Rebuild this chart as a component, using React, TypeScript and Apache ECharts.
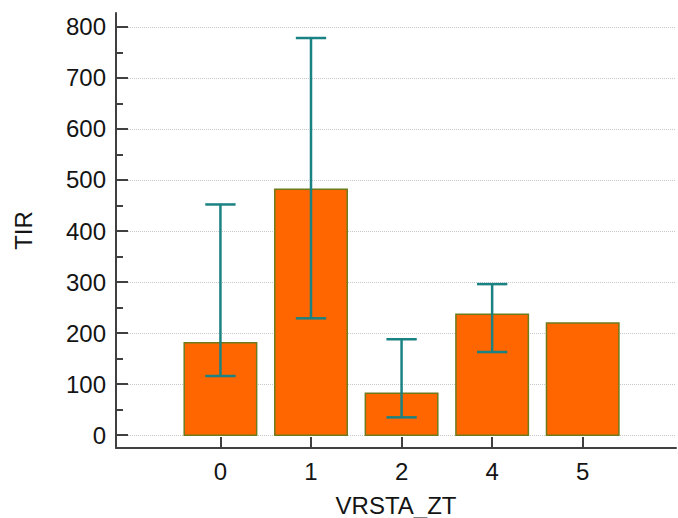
import React, { useEffect, useRef } from 'react';
import * as echarts from 'echarts';

const categories = ['0', '1', '2', '4', '5'];
const means = [181, 482, 82, 237, 220];
const lowerErr: (number | null)[] = [116, 229, 35, 163, null];
const upperErr: (number | null)[] = [452, 778, 188, 296, null];
const yTicks = [0, 100, 200, 300, 400, 500, 600, 700, 800];
const yMinorTicks = [50, 150, 250, 350, 450, 550, 650, 750];

const AXIS_COLOR = '#404040';
const TEXT_COLOR = '#141414';
const FONT = "'Liberation Sans', Arial, sans-serif";
const FS = 24;

export default function App() {
  const ref = useRef<HTMLDivElement>(null);
  useEffect(() => {
    document.body.style.margin = '0';
    const chart = echarts.init(ref.current!, null, { renderer: 'svg' });
    const idx = categories.map((_, i) => i);
    const barData = idx.map((i) => [i, means[i]]);
    const errData = idx
      .filter((i) => lowerErr[i] != null && upperErr[i] != null)
      .map((i) => [i, lowerErr[i] as number, upperErr[i] as number]);

    chart.setOption({
      animation: false,
      grid: { left: 116, right: 2, top: 13, bottom: 70, outerBoundsMode: 'none' },
      xAxis: {
        type: 'value',
        min: -1.153,
        max: 5.03,
        name: 'VRSTA_ZT',
        nameLocation: 'middle',
        nameGap: 45,
        nameTextStyle: { fontSize: FS, color: TEXT_COLOR, fontFamily: FONT },
        axisLine: { show: true, onZero: false, lineStyle: { color: AXIS_COLOR, width: 2 } },
        axisTick: { show: true, inside: true, length: 11, customValues: idx, lineStyle: { color: AXIS_COLOR, width: 2 } },
        axisLabel: {
          customValues: idx,
          formatter: (v: number) => categories[Math.round(v)] ?? '',
          fontSize: FS,
          color: TEXT_COLOR,
          fontFamily: FONT,
          margin: 11,
        },
        splitLine: { show: false },
      },
      yAxis: [
        {
          type: 'value',
          min: -25,
          max: 827,
          name: 'TIR',
          nameLocation: 'middle',
          nameGap: 81,
          nameTextStyle: { fontSize: FS, color: TEXT_COLOR, fontFamily: FONT },
          axisLine: { show: true, onZero: false, lineStyle: { color: AXIS_COLOR, width: 2 } },
          axisTick: { show: true, inside: true, length: 12, customValues: yTicks, lineStyle: { color: AXIS_COLOR, width: 2 } },
          axisLabel: { customValues: yTicks, fontSize: FS, color: TEXT_COLOR, fontFamily: FONT, margin: 10 },
          splitLine: { show: true, lineStyle: { color: '#c8c8c8', type: 'dotted', width: 1 } },
        },
        {
          type: 'value',
          min: -25,
          max: 827,
          position: 'left',
          axisLine: { show: false, onZero: false },
          axisTick: { show: true, inside: true, length: 7, customValues: yMinorTicks, lineStyle: { color: AXIS_COLOR, width: 2 } },
          axisLabel: { show: false },
          splitLine: { show: false },
        },
      ],
      series: [
        {
          type: 'custom',
          xAxisIndex: 0,
          yAxisIndex: 0,
          encode: { x: 0, y: 1 },
          data: barData,
          renderItem: (params: any, api: any) => {
            const x = api.value(0);
            const y = api.value(1);
            const top = api.coord([x, y]);
            const base = api.coord([x, 0]);
            const w = api.size([0.8, 0])[0];
            return {
              type: 'rect',
              shape: { x: top[0] - w / 2, y: top[1], width: w, height: base[1] - top[1] },
              style: { fill: '#FF6600', stroke: '#6E7B1C', lineWidth: 1.5 },
            };
          },
        },
        {
          type: 'custom',
          xAxisIndex: 0,
          yAxisIndex: 0,
          encode: { x: 0, y: [1, 2] },
          data: errData,
          z: 3,
          renderItem: (params: any, api: any) => {
            const x = api.value(0);
            const lo = api.coord([x, api.value(1)]);
            const hi = api.coord([x, api.value(2)]);
            const cap = api.size([0.335, 0])[0] / 2;
            const style = { stroke: '#1A8282', lineWidth: 2.5 };
            return {
              type: 'group',
              children: [
                { type: 'line', shape: { x1: lo[0], y1: lo[1], x2: hi[0], y2: hi[1] }, style },
                { type: 'line', shape: { x1: hi[0] - cap, y1: hi[1], x2: hi[0] + cap, y2: hi[1] }, style },
                { type: 'line', shape: { x1: lo[0] - cap, y1: lo[1], x2: lo[0] + cap, y2: lo[1] }, style },
              ],
            };
          },
        },
      ],
    });
    return () => chart.dispose();
  }, []);
  return <div ref={ref} style={{ width: 678, height: 518 }} />;
}
